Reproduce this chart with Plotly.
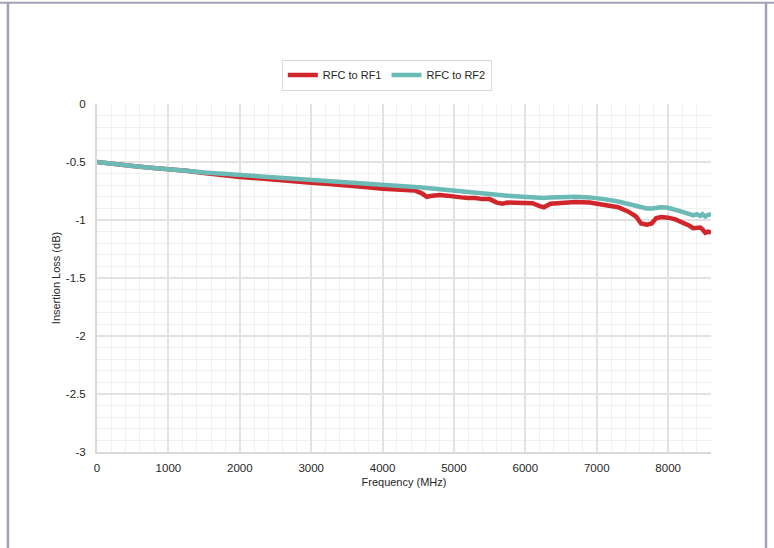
import plotly.graph_objects as go

freq_mhz = [0, 250, 500, 750, 1000, 1250, 1500, 1750, 2000, 2250, 2500, 2750, 3000, 3250,
            3500, 3750, 4000, 4250, 4450, 4550, 4620, 4700, 4800, 4900, 5000, 5100, 5200,
            5300, 5400, 5500, 5600, 5680, 5750, 5850, 6000, 6100, 6200, 6260, 6350, 6500,
            6700, 6900, 7000, 7100, 7300, 7450, 7550, 7620, 7700, 7770, 7830, 7900, 8000,
            8100, 8200, 8300, 8350, 8400, 8450, 8480, 8520, 8560, 8600]

rf2_loss = [-0.50, -0.52, -0.535, -0.55, -0.56, -0.575, -0.59, -0.60, -0.61, -0.62, -0.63,
            -0.64, -0.65, -0.66, -0.67, -0.68, -0.69, -0.705, -0.715, -0.72, -0.725, -0.73,
            -0.74, -0.745, -0.75, -0.755, -0.76, -0.765, -0.77, -0.775, -0.785, -0.79, -0.79,
            -0.795, -0.80, -0.80, -0.81, -0.81, -0.805, -0.80, -0.80, -0.805, -0.81, -0.82,
            -0.84, -0.86, -0.88, -0.89, -0.90, -0.90, -0.895, -0.89, -0.895, -0.91, -0.93,
            -0.95, -0.96, -0.95, -0.965, -0.95, -0.97, -0.955, -0.95]

rf1_loss = [-0.50, -0.52, -0.535, -0.55, -0.56, -0.575, -0.595, -0.615, -0.63, -0.64, -0.655,
            -0.67, -0.68, -0.69, -0.70, -0.715, -0.73, -0.74, -0.745, -0.77, -0.80, -0.79,
            -0.785, -0.79, -0.80, -0.805, -0.81, -0.81, -0.82, -0.82, -0.85, -0.86, -0.85,
            -0.85, -0.85, -0.855, -0.88, -0.89, -0.86, -0.85, -0.845, -0.85, -0.86, -0.87,
            -0.89, -0.93, -0.97, -1.03, -1.04, -1.03, -0.985, -0.975, -0.98, -0.995, -1.02,
            -1.05, -1.07, -1.07, -1.065, -1.08, -1.11, -1.10, -1.11]

x_tick_vals = [0, 1000, 2000, 3000, 4000, 5000, 6000, 7000, 8000]
x_tick_text = ["0", "1000", "2000", "3000", "4000", "5000", "6000", "7000", "8000"]
y_tick_vals = [0, -0.5, -1, -1.5, -2, -2.5, -3]
y_tick_text = ["0", "-0.5", "-1", "-1.5", "-2", "-2.5", "-3"]

RED = "#D0262B"
TEAL = "#6BBAB5"
FONT = "Liberation Sans, Arial, sans-serif"
TXT = "#262626"

fig = go.Figure()
fig.add_trace(go.Scatter(x=freq_mhz, y=rf1_loss, mode="lines", name="RFC to RF1",
                         line=dict(color=RED, width=4.5)))
fig.add_trace(go.Scatter(x=freq_mhz, y=rf2_loss, mode="lines", name="RFC to RF2",
                         line=dict(color=TEAL, width=4.5)))

frame_color = "#A2A2B6"
shapes = [
    dict(type="line", xref="paper", yref="paper", x0=-0.16, x1=1.11, y0=1.291, y1=1.291,
         line=dict(color=frame_color, width=2)),
    dict(type="line", xref="paper", yref="paper", x0=-0.1450, x1=-0.1450, y0=1.291, y1=-0.30,
         line=dict(color=frame_color, width=2.5)),
    dict(type="line", xref="paper", yref="paper", x0=1.0896, x1=1.0896, y0=1.291, y1=-0.30,
         line=dict(color=frame_color, width=2.5)),
]

fig.update_layout(
    width=774, height=548,
    margin=dict(l=97, r=63, t=104, b=96),
    paper_bgcolor="white", plot_bgcolor="white",
    font=dict(family=FONT, size=11, color=TXT),
    showlegend=True,
    legend=dict(orientation="h", x=0.472, xanchor="center", y=1.083, yanchor="middle",
                bordercolor="#D9D9D9", borderwidth=1, font=dict(size=11, color=TXT),
                itemwidth=30, tracegroupgap=0),
    shapes=shapes,
)
fig.update_xaxes(
    range=[0, 8600], tickvals=x_tick_vals, ticktext=x_tick_text,
    showgrid=True, gridcolor="#E2E2E2", gridwidth=2,
    showline=True, linecolor="#D9D9D9", linewidth=2,
    zeroline=False, ticks="", ticklabelstandoff=4,
    minor=dict(dtick=200, showgrid=True, gridcolor="#F0F0F0", gridwidth=1, tick0=0),
    title=dict(text="Frequency (MHz)", font=dict(size=11, color=TXT), standoff=6),
    tickfont=dict(size=11.5, color=TXT),
)
fig.update_yaxes(
    range=[-3, 0], tickvals=y_tick_vals, ticktext=y_tick_text,
    showgrid=True, gridcolor="#E2E2E2", gridwidth=2,
    showline=True, linecolor="#D9D9D9", linewidth=2,
    zeroline=False, ticks="", ticklabelstandoff=7,
    minor=dict(dtick=0.1, showgrid=True, gridcolor="#F0F0F0", gridwidth=1, tick0=0),
    title=dict(text="Insertion Loss (dB)", font=dict(size=11, color=TXT), standoff=3),
    tickfont=dict(size=11.5, color=TXT),
)

fig.write_html("out.html")
